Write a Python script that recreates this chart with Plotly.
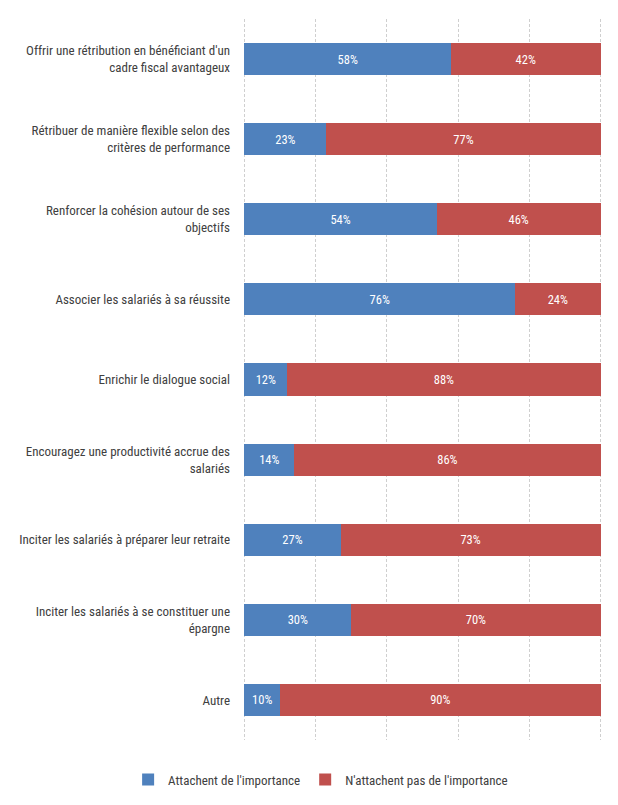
import plotly.graph_objects as go

categories = [
    "Offrir une rétribution en bénéficiant d'un<br>cadre fiscal avantageux",
    "Rétribuer de manière flexible selon des<br>critères de performance",
    "Renforcer la cohésion autour de ses<br>objectifs",
    "Associer les salariés à sa réussite",
    "Enrichir le dialogue social",
    "Encouragez une productivité accrue des<br>salariés",
    "Inciter les salariés à préparer leur retraite",
    "Inciter les salariés à se constituer une<br>épargne",
    "Autre",
]
attachent = [58, 23, 54, 76, 12, 14, 27, 30, 10]
n_attachent_pas = [42, 77, 46, 24, 88, 86, 73, 70, 90]

FONT = "Liberation Sans Narrow, Arial Narrow, Roboto Condensed, Liberation Sans, sans-serif"

fig = go.Figure()
fig.add_trace(go.Bar(
    y=categories, x=attachent, orientation="h",
    name="Attachent de l'importance",
    marker=dict(color="#4F81BD", line=dict(width=0)),
    text=[f"{v}%" for v in attachent], textposition="inside",
    insidetextanchor="middle",
    textfont=dict(color="white", size=12.5, family=FONT),
))
fig.add_trace(go.Bar(
    y=categories, x=n_attachent_pas, orientation="h",
    name="N'attachent pas de l'importance",
    marker=dict(color="#C0504D", line=dict(width=0)),
    text=[f"{v}%" for v in n_attachent_pas], textposition="inside",
    insidetextanchor="middle",
    textfont=dict(color="white", size=12.5, family=FONT),
))

fig.update_layout(
    width=618, height=805,
    barmode="stack", bargap=0.6,
    plot_bgcolor="white", paper_bgcolor="white",
    margin=dict(l=243, r=16, t=19, b=65, autoexpand=False),
    font=dict(family=FONT, size=13, color="#404040"),
    uniformtext=dict(minsize=8, mode="show"),
    xaxis=dict(
        range=[-0.4, 100.4], tickvals=[0, 20, 40, 60, 80, 100],
        showticklabels=False,
        showgrid=True, gridcolor="#CFCFCF", griddash="3px,2px", gridwidth=1,
        zeroline=False, showline=False,
    ),
    yaxis=dict(
        autorange="reversed", showgrid=False, showline=False,
        ticks="", ticklabelstandoff=12,
        tickfont=dict(size=13, color="#404040"),
    ),
    legend=dict(
        orientation="h",
        x=-0.32, xanchor="left", y=-0.034, yanchor="top",
        font=dict(size=13, color="#404040"), itemwidth=30,
        traceorder="normal",
    ),
)

fig.write_html(
    "out.html",
    config={"displayModeBar": False},
    post_script="document.body.style.margin='0';",
)
